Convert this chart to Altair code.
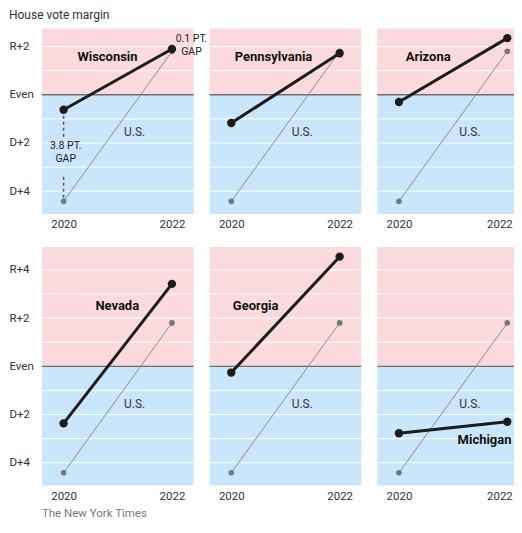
import altair as alt
import pandas as pd

# ---------------- data ----------------
years = [2020, 2022]
states = ["Wisconsin", "Pennsylvania", "Arizona", "Nevada", "Georgia", "Michigan"]
state_2020 = [-0.62, -1.17, -0.30, -2.37, -0.26, -2.78]
state_2022 = [1.90, 1.72, 2.35, 3.42, 4.55, -2.30]
us_margin = [-4.42, 1.80]
top_ticks = [2, 0, -2, -4]
bottom_ticks = [4, 2, 0, -2, -4]
top_grid = [2, 1, -1, -2, -3, -4]
bottom_grid = [4, 3, 2, 1, -1, -2, -3, -4]
gap_text = ["3.8 PT.", "GAP", "0.1 PT.", "GAP"]
chart_title = "House vote margin"
source = "The New York Times"

# ---------------- annotation placement (data coords) ----------------
name_x = [2020.81, 2020.78, 2020.54, 2020.99, 2020.45, 2021.58]
name_y = [1.56, 1.56, 1.56, 2.49, 2.49, -3.06]
us_label = (2021.31, -1.55)
gap_x = [2020.04, 2020.04, 2022.36, 2022.36]
gap_y = [-2.12, -2.66, 2.30, 1.76]
dash_lo = [-0.62, -3.40]
dash_hi = [-1.82, -4.42]

PINK = "#fbdadd"
BLUE = "#c9e6fa"
FONT = "Roboto"
W = 152
TOP_DOM = [-4.95, 2.75]
BOT_DOM = [-4.95, 4.95]
X_DOM = [2019.6, 2022.4]


def panel(i, ydom, height, ticks, grid, show_axis, last_col):
    xsc = alt.Scale(domain=X_DOM, nice=False, zero=False)
    ysc = alt.Scale(domain=ydom, nice=False, zero=False)
    xkw = dict(values=years, format="d", title=None, grid=False, domain=False,
               ticks=False, tickSize=0, labelPadding=4.5, labelFontSize=11.5,
               labelColor="#333", labelFont=FONT)
    if last_col:
        xkw["labelAlign"] = {"condition": {"test": "datum.value == 2022", "value": "right"},
                             "value": "center"}
        xkw["labelOffset"] = {"condition": {"test": "datum.value == 2022", "value": 5},
                              "value": 0}
    xax = alt.Axis(**xkw)
    if show_axis:
        yax = alt.Axis(values=ticks, title=None, grid=False, domain=False, ticks=False,
                       tickSize=0, labelAlign="left", labelBaseline="middle",
                       labelPadding=33, labelFontSize=11.5, labelColor="#333",
                       labelFont=FONT,
                       labelExpr="datum.value == 0 ? 'Even' : (datum.value > 0 ? 'R+' + datum.value : 'D+' + abs(datum.value))")
    else:
        yax = None

    def X(f):
        return alt.X(f, type="quantitative", scale=xsc, axis=xax, title=None)

    def Y(f):
        return alt.Y(f, type="quantitative", scale=ysc, axis=yax, title=None)

    bg = pd.DataFrame({"lo": [0, ydom[0]], "hi": [ydom[1], 0], "c": [PINK, BLUE]})
    layers = []
    layers.append(alt.Chart(bg).mark_rect().encode(
        x=alt.value(0), x2=alt.value(W), y=Y("lo"), y2="hi",
        color=alt.Color("c:N", scale=None)))
    layers.append(alt.Chart(pd.DataFrame({"g": grid})).mark_rule(
        color="white", strokeWidth=1).encode(y=Y("g")))
    layers.append(alt.Chart(pd.DataFrame({"g": [0]})).mark_rule(
        color="#6e6e6e", strokeWidth=1.3).encode(y=Y("g")))

    if i == 0:
        dd = pd.DataFrame({"year": [years[0], years[0]], "lo": dash_lo, "hi": dash_hi})
        layers.append(alt.Chart(dd).mark_rule(
            color="#555", strokeWidth=1.5, strokeDash=[3, 3]).encode(
            x=X("year"), y=Y("lo"), y2="hi"))

    us = pd.DataFrame({"year": years, "m": us_margin})
    layers.append(alt.Chart(us).mark_line(color="#8c8c8c", strokeWidth=1).encode(
        x=X("year"), y=Y("m")))
    layers.append(alt.Chart(us).mark_circle(color="#777", size=32, opacity=1).encode(
        x=X("year"), y=Y("m")))

    st = pd.DataFrame({"year": years, "m": [state_2020[i], state_2022[i]]})
    layers.append(alt.Chart(st).mark_line(color="#1c1c1c", strokeWidth=3).encode(
        x=X("year"), y=Y("m")))
    layers.append(alt.Chart(st).mark_circle(color="#1c1c1c", size=70, opacity=1).encode(
        x=X("year"), y=Y("m")))

    nm = pd.DataFrame({"x": [name_x[i]], "y": [name_y[i]], "t": [states[i]]})
    layers.append(alt.Chart(nm).mark_text(
        font=FONT, fontWeight="bold", fontSize=13, color="#121212",
        align="center", baseline="middle").encode(x=X("x"), y=Y("y"), text="t:N"))
    ul = pd.DataFrame({"x": [us_label[0]], "y": [us_label[1]], "t": ["U.S."]})
    layers.append(alt.Chart(ul).mark_text(
        font=FONT, fontSize=12, color="#333", align="center",
        baseline="middle").encode(x=X("x"), y=Y("y"), text="t:N"))

    if i == 0:
        gp = pd.DataFrame({"x": gap_x, "y": gap_y, "t": gap_text})
        layers.append(alt.Chart(gp).mark_text(
            font=FONT, fontSize=10.5, color="#222", align="center",
            baseline="middle").encode(x=X("x"), y=Y("y"), text="t:N"))

    return alt.layer(*layers).properties(width=W, height=height)


row1 = alt.hconcat(
    *[panel(i, TOP_DOM, 186, top_ticks, top_grid, i == 0, i == 2) for i in range(3)],
    spacing=16, bounds="flush")
row2 = alt.hconcat(
    *[panel(i, BOT_DOM, 239, bottom_ticks, bottom_grid, i == 3, i == 5) for i in range(3, 6)],
    spacing=16, bounds="flush")

footer = alt.Chart(pd.DataFrame({"t": [source]})).mark_text(
    font=FONT, fontSize=11.5, color="#777", align="left", baseline="middle").encode(
    text="t:N", x=alt.value(0), y=alt.value(4)).properties(width=120, height=8)

body = alt.vconcat(row1, row2, spacing=17)

chart = alt.vconcat(body, footer, spacing=7).properties(
    title=alt.TitleParams(chart_title, anchor="start", fontSize=12, fontWeight="normal",
                          font=FONT, color="#333", offset=6.5),
    padding={"left": 1, "top": 0, "right": -16, "bottom": -1},
).configure_view(stroke=None)

chart.save("out.html", embed_options={"renderer": "svg", "actions": False})
